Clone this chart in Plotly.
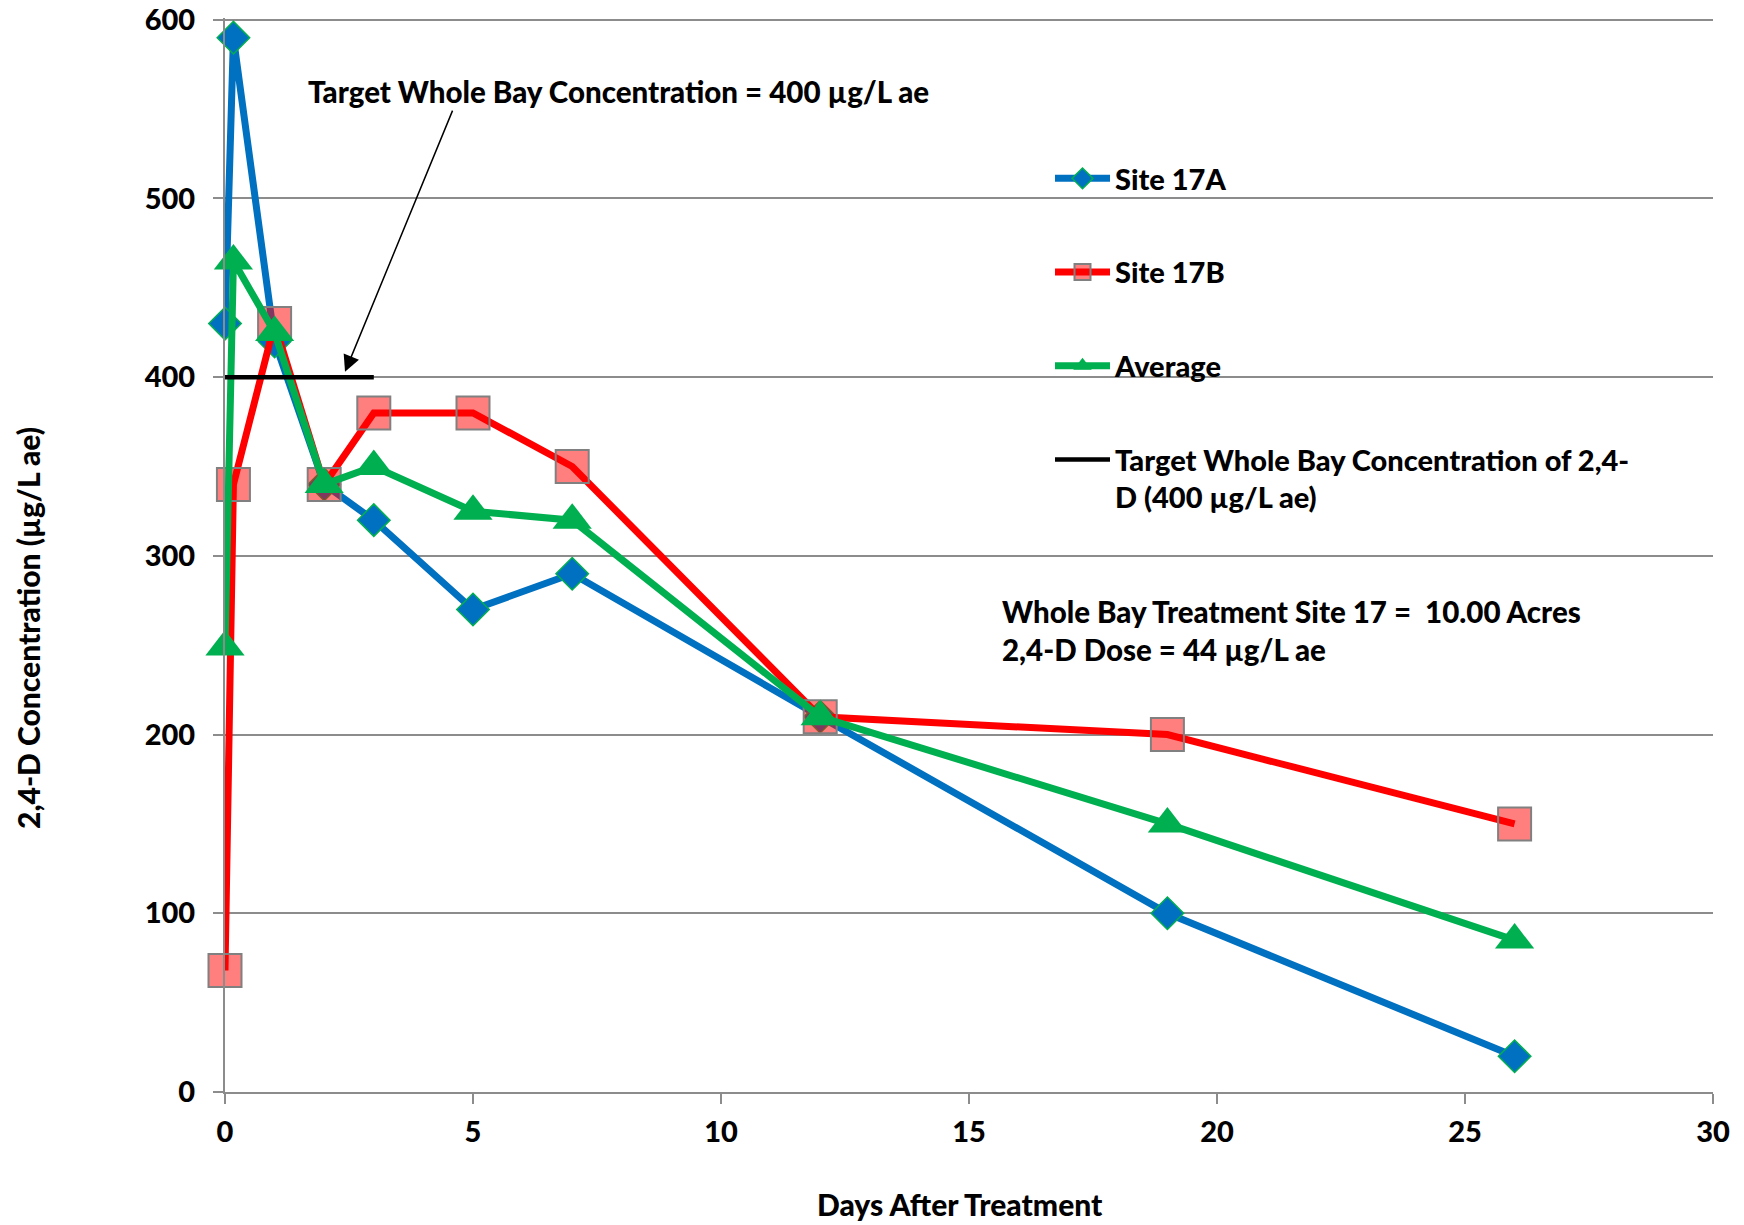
import plotly.graph_objects as go

# ---- data ----
days = [0, 0.17, 1, 2, 3, 5, 7, 12, 19, 26]
site_17a = [430, 590, 420, 340, 320, 270, 290, 210, 100, 20]
site_17b = [68, 340, 430, 340, 380, 380, 350, 210, 200, 150]
average = [249, 465, 425, 340, 350, 325, 320, 210, 150, 85]
target_days = [0, 3]
target_conc = [400, 400]

x_ticks = [0, 5, 10, 15, 20, 25, 30]
y_ticks = [0, 100, 200, 300, 400, 500, 600]

FONT = "Lato"
W = 900
GRID = "#8c8c8c"

FIG_W, FIG_H = 1744, 1225
# plot area on the page: x 225..1713, y (top of range) 18..1092
PX0, PX1, PY0, PY1 = 225, 1713, 18, 1092
L, R, T, B = PX0, FIG_W - PX1, PY0, FIG_H - PY1


def px(xp):
    return (xp - PX0) / (PX1 - PX0)


def py(yp):
    return (PY1 - yp) / (PY1 - PY0)


def f(size):
    return dict(size=size, color="black", family=FONT, weight=W)


fig = go.Figure()

fig.add_trace(go.Scatter(
    x=days, y=site_17a, name="Site 17A", mode="lines+markers",
    line=dict(color="#0070C0", width=7),
    marker=dict(symbol="diamond", size=25, color="#0070C0",
                line=dict(color="#00B050", width=1.5)),
    cliponaxis=False, legendgroup="a"))

fig.add_trace(go.Scatter(
    x=days, y=site_17b, name="Site 17B", mode="lines+markers",
    line=dict(color="#FF0000", width=7),
    marker=dict(symbol="square", size=33, color="rgba(255,0,0,0.5)",
                line=dict(color="#808080", width=2)),
    cliponaxis=False, legendgroup="b"))

fig.add_trace(go.Scatter(
    x=days, y=average, name="Average", mode="lines+markers",
    line=dict(color="#00B050", width=7),
    marker=dict(symbol="triangle-up", size=34, color="#00B050"),
    cliponaxis=False, legendgroup="c"))

fig.add_trace(go.Scatter(
    x=target_days, y=target_conc,
    name="Target Whole Bay Concentration of 2,4-<br>D (400 µg/L ae)",
    mode="lines", line=dict(color="#000000", width=4.5),
    cliponaxis=False, legendgroup="d"))

# annotations
fig.add_annotation(x=px(618), y=py(91), xref="paper", yref="paper",
                   xanchor="center", yanchor="middle",
                   text="Target Whole Bay Concentration = 400 µg/L ae",
                   showarrow=False, font=f(29.5))
fig.add_annotation(x=2.42, y=403, ax=4.6, ay=550, xref="x", yref="y",
                   axref="x", ayref="y", text="", showarrow=True,
                   arrowhead=2, arrowsize=2.2, arrowwidth=1.5, arrowcolor="black")
fig.add_annotation(x=px(1000), y=py(592), xref="paper", yref="paper",
                   xanchor="left", yanchor="top", align="left",
                   text="Whole Bay Treatment Site 17 = \u00a010.00 Acres<br>2,4-D Dose = 44 µg/L ae",
                   showarrow=False, font=f(29.5))
fig.add_annotation(x=px(28), y=py(628), xref="paper", yref="paper",
                   xanchor="center", yanchor="middle",
                   text="2,4-D Concentration (µg/L ae)", textangle=-90, showarrow=False,
                   font=f(30))
fig.add_annotation(x=px(960), y=py(1204), xref="paper", yref="paper",
                   xanchor="center", yanchor="middle",
                   text="Days After Treatment", showarrow=False,
                   font=f(30))

fig.update_xaxes(range=[0, 30], tickvals=x_ticks, ticktext=[str(v) for v in x_ticks],
                 showgrid=False, zeroline=False, showline=True, linecolor=GRID, linewidth=2,
                 ticks="outside", ticklen=10, tickwidth=2, tickcolor=GRID,
                 ticklabelstandoff=3, automargin=False, ticklabeloverflow="allow",
                 tickfont=f(29))
fig.update_yaxes(range=[0, 601], tickvals=y_ticks, ticktext=[str(v) for v in y_ticks],
                 showgrid=True, gridcolor=GRID, gridwidth=2, zeroline=False,
                 showline=True, linecolor=GRID, linewidth=2,
                 ticks="outside", ticklen=10, tickwidth=2, tickcolor=GRID,
                 ticklabelstandoff=12, automargin=False, ticklabeloverflow="allow",
                 tickfont=f(29))

fig.update_layout(
    width=FIG_W, height=FIG_H, autosize=False,
    margin=dict(l=L, r=R, t=T, b=B, pad=0),
    paper_bgcolor="white", plot_bgcolor="white",
    font=f(29),
    showlegend=True,
    legend=dict(x=px(1050), y=py(153), xanchor="left", yanchor="top",
                bgcolor="rgba(0,0,0,0)", tracegroupgap=53, itemwidth=55, valign="top",
                font=f(29)),
)

fig.write_html(
    "out.html",
    config={"displayModeBar": False},
    post_script="document.body.style.margin='0';document.body.style.overflow='hidden';",
)
